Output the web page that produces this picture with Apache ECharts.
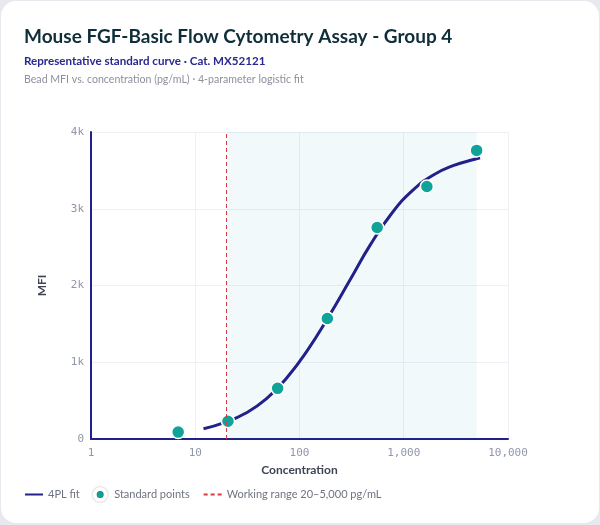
<!DOCTYPE html>
<html lang="en">
<head>
	<meta charset="UTF-8">
	<title>Mouse FGF-Basic Flow Cytometry Assay - Group 4</title>
	<script src="https://cdn.jsdelivr.net/npm/echarts@6/dist/echarts.min.js"></script>
	<style>
		* {
			margin: 0;
			padding: 0;
		}

		html,
		body {
			width: 100%;
			height: 100%;
			background: #e7e9ef;
		}

		#card {
			position: absolute;
			left: 1px;
			top: 1px;
			width: 598px;
			height: 522px;
			background: #fff;
			border-radius: 15px;
			overflow: hidden;
		}

		#main {
			width: 100%;
			height: 100%;
		}
	</style>
</head>
<body>
	<div id="card"><div id="main"></div></div>
	<script>
		// standard points (3-fold dilution series), pg/mL vs MFI
		const stdConc = [6.86, 20.6, 61.7, 185, 556, 1667, 5000];
		const stdMfi = [90, 232, 660, 1570, 2755, 3290, 3760];

		// 4PL fitted curve
		const fitConc = [12, 19, 30, 48, 76, 120, 190, 302, 479, 759, 1202, 1905, 3020, 4786, 5400];
		const fitMfi = [133, 213, 332, 522, 802, 1162, 1592, 2062, 2532, 2932, 3232, 3437, 3564, 3645, 3663];

		const rangeLow = 20;
		const rangeHigh = 5000;

		const navy = '#22208a';
		const teal = '#0fa39a';
		const red = '#d93a42';
		const mono = '"DejaVu Sans Mono", monospace';
		const sans = 'Lato, "Noto Sans", sans-serif';

		const chart = echarts.init(document.getElementById('main'));

		const option = {
			animation: false,
			title: [{
				text: 'Mouse FGF-Basic Flow Cytometry Assay - Group 4',
				left: 23,
				top: 26,
				padding: 0,
				textStyle: { fontFamily: sans, fontSize: 19, fontWeight: 'bold', color: '#0f2e3a' }
			}, {
				text: 'Representative standard curve · Cat. MX52121',
				left: 23,
				top: 54,
				padding: 0,
				textStyle: { fontFamily: sans, fontSize: 11.6, fontWeight: 'bold', color: '#2a2890' }
			}, {
				text: 'Bead MFI vs. concentration (pg/mL) · 4-parameter logistic fit',
				left: 23,
				top: 73,
				padding: 0,
				textStyle: { fontFamily: sans, fontSize: 10.6, fontWeight: 'normal', color: '#8d919b' }
			}],
			grid: {
				left: 90,
				right: 91,
				top: 131,
				bottom: 84
			},
			legend: {
				left: 18,
				bottom: 16,
				itemWidth: 18,
				itemHeight: 11,
				itemGap: 13,
				textStyle: { fontFamily: sans, fontSize: 11, color: '#6f7482' },
				data: [
					{ name: '4PL fit', itemStyle: { opacity: 0 } },
					{
						name: 'Standard points',
						icon: 'circle',
						itemStyle: {
							color: teal,
							borderColor: '#fff',
							borderWidth: 4,
							shadowBlur: 2,
							shadowColor: 'rgba(0,0,0,0.35)'
						}
					},
					{ name: 'Working range 20–5,000 pg/mL', itemStyle: { opacity: 0 } }
				]
			},
			xAxis: {
				type: 'log',
				logBase: 10,
				min: 1,
				max: 10000,
				name: 'Concentration',
				nameLocation: 'middle',
				nameGap: 22,
				nameTextStyle: { fontFamily: sans, fontSize: 12, fontWeight: 'bold', color: '#3e4456' },
				axisLine: { lineStyle: { color: navy, width: 2 } },
				axisTick: { show: false },
				axisLabel: {
					fontFamily: mono,
					fontSize: 11,
					color: '#9096ab',
					margin: 9,
					formatter: v => Number(v).toLocaleString('en-US')
				},
				splitLine: { show: true, lineStyle: { color: '#eef0f4' } }
			},
			yAxis: {
				type: 'value',
				min: 0,
				max: 4000,
				interval: 1000,
				name: 'MFI',
				nameLocation: 'middle',
				nameGap: 43,
				nameTextStyle: { fontFamily: sans, fontSize: 12, fontWeight: 'bold', color: '#3e4456' },
				axisLine: { show: true, lineStyle: { color: navy, width: 2 } },
				axisTick: { show: false },
				axisLabel: {
					fontFamily: mono,
					fontSize: 11,
					color: '#9096ab',
					margin: 7,
					formatter: v => v === 0 ? '0' : (v / 1000) + 'k'
				},
				splitLine: { lineStyle: { color: '#eef0f4' } }
			},
			series: [{
				name: 'Working range 20–5,000 pg/mL',
				type: 'line',
				symbol: 'none',
				data: [],
				lineStyle: { color: red, width: 1.5, type: [4, 3] },
				itemStyle: { color: red },
				markArea: {
					silent: true,
					itemStyle: { color: 'rgba(20,160,185,0.06)' },
					data: [[{ xAxis: rangeLow }, { xAxis: rangeHigh }]]
				},
				markLine: {
					silent: true,
					symbol: 'none',
					label: { show: false },
					lineStyle: { color: red, width: 1, type: [4, 3] },
					data: [{ xAxis: rangeLow }]
				}
			}, {
				name: '4PL fit',
				type: 'line',
				smooth: 0.5,
				symbol: 'none',
				data: fitConc.map((c, i) => [c, fitMfi[i]]),
				lineStyle: { color: navy, width: 3 },
				itemStyle: { color: navy },
				z: 3
			}, {
				name: 'Standard points',
				type: 'scatter',
				symbolSize: 13,
				data: stdConc.map((c, i) => [c, stdMfi[i]]),
				itemStyle: { color: teal, borderColor: '#fff', borderWidth: 1.5, opacity: 1 },
				z: 4
			}]
		};

		chart.setOption(option);
	</script>
</body>
</html>
